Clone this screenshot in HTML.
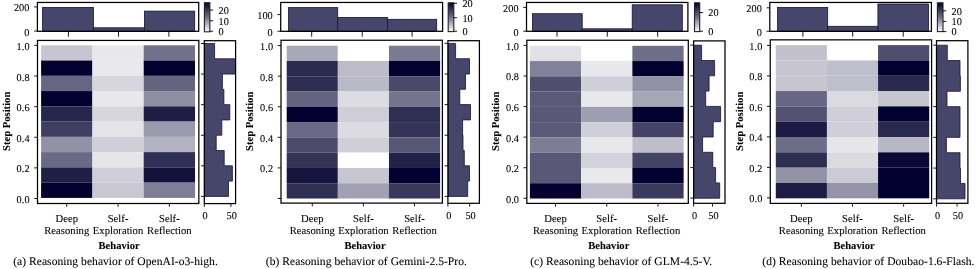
<!DOCTYPE html>
<html><head><meta charset="utf-8"><style>
html,body{margin:0;padding:0;background:#fff;}
body{width:977px;height:269px;overflow:hidden;}
svg{display:block;will-change:transform;}
text{font-family:"Liberation Serif", serif;fill:#000;stroke:#000;stroke-width:0.08px;text-rendering:geometricPrecision;}
.t{font-size:10.4px;}
.x{font-size:10.7px;}
.b{font-size:10.6px;font-weight:bold;}
.c{font-size:11.65px;}
</style></head><body>
<svg width="977" height="269" viewBox="0 0 977 269">
<defs><linearGradient id="g0" x1="0" y1="1" x2="0" y2="0"><stop offset="0" stop-color="#ffffff"/><stop offset="0.5" stop-color="#6f6e8a"/><stop offset="1" stop-color="#02002e"/></linearGradient><clipPath id="rc0"><rect x="204.3" y="40.7" width="31.3" height="162.9"/></clipPath><linearGradient id="g1" x1="0" y1="1" x2="0" y2="0"><stop offset="0" stop-color="#ffffff"/><stop offset="0.5" stop-color="#6f6e8a"/><stop offset="1" stop-color="#02002e"/></linearGradient><clipPath id="rc1"><rect x="447.9" y="40.7" width="31.5" height="162.6"/></clipPath><linearGradient id="g2" x1="0" y1="1" x2="0" y2="0"><stop offset="0" stop-color="#ffffff"/><stop offset="0.5" stop-color="#6f6e8a"/><stop offset="1" stop-color="#02002e"/></linearGradient><clipPath id="rc2"><rect x="693.6" y="40.9" width="31.4" height="162.4"/></clipPath><linearGradient id="g3" x1="0" y1="1" x2="0" y2="0"><stop offset="0" stop-color="#ffffff"/><stop offset="0.5" stop-color="#6f6e8a"/><stop offset="1" stop-color="#02002e"/></linearGradient><clipPath id="rc3"><rect x="936.5" y="40.7" width="31.4" height="162.6"/></clipPath></defs>
<rect x="41.1" y="45.3" width="51.32" height="15.28" fill="#c6c5d0"/>
<rect x="92.4" y="45.3" width="51.32" height="15.28" fill="#e8e7ec"/>
<rect x="143.7" y="45.3" width="51.32" height="15.28" fill="#72718b"/>
<rect x="41.1" y="60.56" width="51.32" height="15.28" fill="#02002e"/>
<rect x="92.4" y="60.56" width="51.32" height="15.28" fill="#e9e8ed"/>
<rect x="143.7" y="60.56" width="51.32" height="15.28" fill="#02002e"/>
<rect x="41.1" y="75.82" width="51.32" height="15.28" fill="#676682"/>
<rect x="92.4" y="75.82" width="51.32" height="15.28" fill="#d7d6de"/>
<rect x="143.7" y="75.82" width="51.32" height="15.28" fill="#65647f"/>
<rect x="41.1" y="91.08" width="51.32" height="15.28" fill="#02002e"/>
<rect x="92.4" y="91.08" width="51.32" height="15.28" fill="#e8e7ec"/>
<rect x="143.7" y="91.08" width="51.32" height="15.28" fill="#8f8ea3"/>
<rect x="41.1" y="106.34" width="51.32" height="15.28" fill="#26254b"/>
<rect x="92.4" y="106.34" width="51.32" height="15.28" fill="#d6d6dc"/>
<rect x="143.7" y="106.34" width="51.32" height="15.28" fill="#1f1d45"/>
<rect x="41.1" y="121.6" width="51.32" height="15.28" fill="#3f3e60"/>
<rect x="92.4" y="121.6" width="51.32" height="15.28" fill="#e4e3e8"/>
<rect x="143.7" y="121.6" width="51.32" height="15.28" fill="#9a99ad"/>
<rect x="41.1" y="136.86" width="51.32" height="15.28" fill="#9291a6"/>
<rect x="92.4" y="136.86" width="51.32" height="15.28" fill="#d0cfd8"/>
<rect x="143.7" y="136.86" width="51.32" height="15.28" fill="#b3b2c0"/>
<rect x="41.1" y="152.12" width="51.32" height="15.28" fill="#6b6a86"/>
<rect x="92.4" y="152.12" width="51.32" height="15.28" fill="#e6e5ea"/>
<rect x="143.7" y="152.12" width="51.32" height="15.28" fill="#302f55"/>
<rect x="41.1" y="167.38" width="51.32" height="15.28" fill="#1f1e45"/>
<rect x="92.4" y="167.38" width="51.32" height="15.28" fill="#d0cfd9"/>
<rect x="143.7" y="167.38" width="51.32" height="15.28" fill="#14123c"/>
<rect x="41.1" y="182.64" width="51.32" height="15.28" fill="#04002e"/>
<rect x="92.4" y="182.64" width="51.32" height="15.28" fill="#c8c7d3"/>
<rect x="143.7" y="182.64" width="51.32" height="15.28" fill="#7f7e97"/>
<rect x="37.5" y="40.45" width="161.35" height="163.05" fill="none" stroke="#000" stroke-width="1.25"/>
<line x1="34.2" y1="45.4" x2="37.5" y2="45.4" stroke="#000" stroke-width="0.9"/>
<text x="0" y="0" transform="translate(29.6,49.9) skewX(0.5)" text-anchor="end" class="t">1.0</text>
<line x1="34.2" y1="76.02" x2="37.5" y2="76.02" stroke="#000" stroke-width="0.9"/>
<text x="0" y="0" transform="translate(29.6,80.52) skewX(0.5)" text-anchor="end" class="t">0.8</text>
<line x1="34.2" y1="106.64" x2="37.5" y2="106.64" stroke="#000" stroke-width="0.9"/>
<text x="0" y="0" transform="translate(29.6,111.14) skewX(0.5)" text-anchor="end" class="t">0.6</text>
<line x1="34.2" y1="137.26" x2="37.5" y2="137.26" stroke="#000" stroke-width="0.9"/>
<text x="0" y="0" transform="translate(29.6,141.76) skewX(0.5)" text-anchor="end" class="t">0.4</text>
<line x1="34.2" y1="167.88" x2="37.5" y2="167.88" stroke="#000" stroke-width="0.9"/>
<text x="0" y="0" transform="translate(29.6,172.38) skewX(0.5)" text-anchor="end" class="t">0.2</text>
<line x1="34.2" y1="198.5" x2="37.5" y2="198.5" stroke="#000" stroke-width="0.9"/>
<text x="0" y="0" transform="translate(29.6,203) skewX(0.5)" text-anchor="end" class="t">0.0</text>
<line x1="66.75" y1="203.5" x2="66.75" y2="206.8" stroke="#000" stroke-width="0.9"/>
<line x1="118.05" y1="203.5" x2="118.05" y2="206.8" stroke="#000" stroke-width="0.9"/>
<line x1="169.35" y1="203.5" x2="169.35" y2="206.8" stroke="#000" stroke-width="0.9"/>
<text x="0" y="0" transform="translate(66.75,221.9) skewX(0.5)" text-anchor="middle" class="x">Deep</text>
<text x="0" y="0" transform="translate(66.75,233.7) skewX(0.5)" text-anchor="middle" class="x">Reasoning</text>
<text x="0" y="0" transform="translate(118.05,221.9) skewX(0.5)" text-anchor="middle" class="x">Self-</text>
<text x="0" y="0" transform="translate(118.05,233.7) skewX(0.5)" text-anchor="middle" class="x">Exploration</text>
<text x="0" y="0" transform="translate(169.35,221.9) skewX(0.5)" text-anchor="middle" class="x">Self-</text>
<text x="0" y="0" transform="translate(169.35,233.7) skewX(0.5)" text-anchor="middle" class="x">Reflection</text>
<text x="0" y="0" transform="translate(119.15,248.8) skewX(0.5)" text-anchor="middle" class="b">Behavior</text>
<text x="0" y="0" transform="translate(9.8,121.3) rotate(-90)" text-anchor="middle" class="b">Step Position</text>
<text x="0" y="0" transform="translate(115.5,264.6) skewX(0.5)" text-anchor="middle" class="c">(a) Reasoning behavior of OpenAI-o3-high.</text>
<rect x="42.6" y="7.4" width="50.82" height="23.9" fill="#46456a" stroke="#15133f" stroke-width="0.8"/>
<rect x="93.4" y="27.8" width="51.02" height="3.5" fill="#46456a" stroke="#15133f" stroke-width="0.8"/>
<rect x="144.4" y="11.1" width="50.32" height="20.2" fill="#46456a" stroke="#15133f" stroke-width="0.8"/>
<rect x="37.4" y="2.45" width="161.3" height="28.85" fill="none" stroke="#000" stroke-width="1.25"/>
<line x1="34.1" y1="6.9" x2="37.4" y2="6.9" stroke="#000" stroke-width="0.9"/>
<text x="0" y="0" transform="translate(29.5,11.4) skewX(0.5)" text-anchor="end" class="t">200</text>
<line x1="34.1" y1="31.1" x2="37.4" y2="31.1" stroke="#000" stroke-width="0.9"/>
<text x="0" y="0" transform="translate(29.5,35.6) skewX(0.5)" text-anchor="end" class="t">0</text>
<line x1="68.4" y1="31.3" x2="68.4" y2="36.7" stroke="#000" stroke-width="0.9"/>
<line x1="118.5" y1="31.3" x2="118.5" y2="36.7" stroke="#000" stroke-width="0.9"/>
<line x1="168.9" y1="31.3" x2="168.9" y2="36.7" stroke="#000" stroke-width="0.9"/>
<rect x="204.4" y="2.7" width="5.45" height="29.1" fill="url(#g0)" stroke="#222" stroke-width="1.1"/>
<line x1="209.85" y1="10.1" x2="213.15" y2="10.1" stroke="#000" stroke-width="0.9"/>
<text x="0" y="0" transform="translate(218.45,13.9) skewX(0.5)" class="t">20</text>
<line x1="209.85" y1="20.8" x2="213.15" y2="20.8" stroke="#000" stroke-width="0.9"/>
<text x="0" y="0" transform="translate(218.45,24.6) skewX(0.5)" class="t">10</text>
<line x1="209.85" y1="31.2" x2="213.15" y2="31.2" stroke="#000" stroke-width="0.9"/>
<text x="0" y="0" transform="translate(218.45,35) skewX(0.5)" class="t">0</text>
<path d="M204.3,43.5 L214.6,43.5 L214.6,58.79 L237.6,58.79 L237.6,74.08 L222.4,74.08 L222.4,89.37 L223.9,89.37 L223.9,104.66 L229.8,104.66 L229.8,119.95 L221.8,119.95 L221.8,135.24 L216.2,135.24 L216.2,150.53 L224.2,150.53 L224.2,165.82 L232.4,165.82 L232.4,181.11 L228.5,181.11 L228.5,196.4 L204.3,196.4 Z" fill="#46456a" stroke="#15133f" stroke-width="0.8" clip-path="url(#rc0)"/>
<rect x="204.3" y="40.7" width="31.3" height="162.9" fill="none" stroke="#000" stroke-width="1.25"/>
<line x1="201" y1="43.5" x2="204.3" y2="43.5" stroke="#000" stroke-width="0.9"/>
<line x1="201" y1="74.08" x2="204.3" y2="74.08" stroke="#000" stroke-width="0.9"/>
<line x1="201" y1="104.66" x2="204.3" y2="104.66" stroke="#000" stroke-width="0.9"/>
<line x1="201" y1="135.24" x2="204.3" y2="135.24" stroke="#000" stroke-width="0.9"/>
<line x1="201" y1="165.82" x2="204.3" y2="165.82" stroke="#000" stroke-width="0.9"/>
<line x1="201" y1="196.4" x2="204.3" y2="196.4" stroke="#000" stroke-width="0.9"/>
<line x1="204.3" y1="203.6" x2="204.3" y2="206.9" stroke="#000" stroke-width="0.9"/>
<text x="0" y="0" transform="translate(205.2,218.7) skewX(0.5)" text-anchor="middle" class="t">0</text>
<line x1="230.9" y1="203.6" x2="230.9" y2="206.9" stroke="#000" stroke-width="0.9"/>
<text x="0" y="0" transform="translate(231.8,218.7) skewX(0.5)" text-anchor="middle" class="t">50</text>
<rect x="286.7" y="45.7" width="51.15" height="15.3" fill="#a9a8b8"/>
<rect x="337.83" y="45.7" width="51.15" height="15.3" fill="#ffffff"/>
<rect x="388.97" y="45.7" width="51.15" height="15.3" fill="#7b7a93"/>
<rect x="286.7" y="60.98" width="51.15" height="15.3" fill="#2b2a4f"/>
<rect x="337.83" y="60.98" width="51.15" height="15.3" fill="#bcbbc7"/>
<rect x="388.97" y="60.98" width="51.15" height="15.3" fill="#02002e"/>
<rect x="286.7" y="76.26" width="51.15" height="15.3" fill="#2e2d52"/>
<rect x="337.83" y="76.26" width="51.15" height="15.3" fill="#bab9c6"/>
<rect x="388.97" y="76.26" width="51.15" height="15.3" fill="#4a4969"/>
<rect x="286.7" y="91.54" width="51.15" height="15.3" fill="#636280"/>
<rect x="337.83" y="91.54" width="51.15" height="15.3" fill="#dddce3"/>
<rect x="388.97" y="91.54" width="51.15" height="15.3" fill="#75748e"/>
<rect x="286.7" y="106.82" width="51.15" height="15.3" fill="#03002f"/>
<rect x="337.83" y="106.82" width="51.15" height="15.3" fill="#cfced8"/>
<rect x="388.97" y="106.82" width="51.15" height="15.3" fill="#2f2e53"/>
<rect x="286.7" y="122.1" width="51.15" height="15.3" fill="#6a6986"/>
<rect x="337.83" y="122.1" width="51.15" height="15.3" fill="#dcdbe2"/>
<rect x="388.97" y="122.1" width="51.15" height="15.3" fill="#353458"/>
<rect x="286.7" y="137.38" width="51.15" height="15.3" fill="#4c4b6b"/>
<rect x="337.83" y="137.38" width="51.15" height="15.3" fill="#d0cfd9"/>
<rect x="388.97" y="137.38" width="51.15" height="15.3" fill="#575676"/>
<rect x="286.7" y="152.66" width="51.15" height="15.3" fill="#343357"/>
<rect x="337.83" y="152.66" width="51.15" height="15.3" fill="#ffffff"/>
<rect x="388.97" y="152.66" width="51.15" height="15.3" fill="#222148"/>
<rect x="286.7" y="167.94" width="51.15" height="15.3" fill="#17153d"/>
<rect x="337.83" y="167.94" width="51.15" height="15.3" fill="#c8c7d1"/>
<rect x="388.97" y="167.94" width="51.15" height="15.3" fill="#03002f"/>
<rect x="286.7" y="183.22" width="51.15" height="15.3" fill="#2f2e53"/>
<rect x="337.83" y="183.22" width="51.15" height="15.3" fill="#a2a1b3"/>
<rect x="388.97" y="183.22" width="51.15" height="15.3" fill="#3a395c"/>
<rect x="281" y="40.25" width="161.4" height="162.85" fill="none" stroke="#000" stroke-width="1.25"/>
<line x1="277.7" y1="45.6" x2="281" y2="45.6" stroke="#000" stroke-width="0.9"/>
<text x="0" y="0" transform="translate(273.1,50.1) skewX(0.5)" text-anchor="end" class="t">1.0</text>
<line x1="277.7" y1="76.18" x2="281" y2="76.18" stroke="#000" stroke-width="0.9"/>
<text x="0" y="0" transform="translate(273.1,80.68) skewX(0.5)" text-anchor="end" class="t">0.8</text>
<line x1="277.7" y1="106.76" x2="281" y2="106.76" stroke="#000" stroke-width="0.9"/>
<text x="0" y="0" transform="translate(273.1,111.26) skewX(0.5)" text-anchor="end" class="t">0.6</text>
<line x1="277.7" y1="137.34" x2="281" y2="137.34" stroke="#000" stroke-width="0.9"/>
<text x="0" y="0" transform="translate(273.1,141.84) skewX(0.5)" text-anchor="end" class="t">0.4</text>
<line x1="277.7" y1="167.92" x2="281" y2="167.92" stroke="#000" stroke-width="0.9"/>
<text x="0" y="0" transform="translate(273.1,172.42) skewX(0.5)" text-anchor="end" class="t">0.2</text>
<line x1="277.7" y1="198.5" x2="281" y2="198.5" stroke="#000" stroke-width="0.9"/>
<line x1="312.27" y1="203.1" x2="312.27" y2="206.4" stroke="#000" stroke-width="0.9"/>
<line x1="363.4" y1="203.1" x2="363.4" y2="206.4" stroke="#000" stroke-width="0.9"/>
<line x1="414.53" y1="203.1" x2="414.53" y2="206.4" stroke="#000" stroke-width="0.9"/>
<text x="0" y="0" transform="translate(312.27,221.9) skewX(0.5)" text-anchor="middle" class="x">Deep</text>
<text x="0" y="0" transform="translate(312.27,233.7) skewX(0.5)" text-anchor="middle" class="x">Reasoning</text>
<text x="0" y="0" transform="translate(363.4,221.9) skewX(0.5)" text-anchor="middle" class="x">Self-</text>
<text x="0" y="0" transform="translate(363.4,233.7) skewX(0.5)" text-anchor="middle" class="x">Exploration</text>
<text x="0" y="0" transform="translate(414.53,221.9) skewX(0.5)" text-anchor="middle" class="x">Self-</text>
<text x="0" y="0" transform="translate(414.53,233.7) skewX(0.5)" text-anchor="middle" class="x">Reflection</text>
<text x="0" y="0" transform="translate(365,248.8) skewX(0.5)" text-anchor="middle" class="b">Behavior</text>
<text x="0" y="0" transform="translate(253.3,121.3) rotate(-90)" text-anchor="middle" class="b">Step Position</text>
<text x="0" y="0" transform="translate(366.4,264.6) skewX(0.5)" text-anchor="middle" class="c">(b) Reasoning behavior of Gemini-2.5-Pro.</text>
<rect x="288.5" y="7.6" width="49.22" height="23.7" fill="#46456a" stroke="#15133f" stroke-width="0.8"/>
<rect x="337.7" y="17.4" width="49.82" height="13.9" fill="#46456a" stroke="#15133f" stroke-width="0.8"/>
<rect x="387.5" y="19.3" width="49.22" height="12" fill="#46456a" stroke="#15133f" stroke-width="0.8"/>
<rect x="280.7" y="2.45" width="161.9" height="28.85" fill="none" stroke="#000" stroke-width="1.25"/>
<line x1="277.4" y1="14.6" x2="280.7" y2="14.6" stroke="#000" stroke-width="0.9"/>
<text x="0" y="0" transform="translate(272.8,19.1) skewX(0.5)" text-anchor="end" class="t">100</text>
<line x1="277.4" y1="31.2" x2="280.7" y2="31.2" stroke="#000" stroke-width="0.9"/>
<text x="0" y="0" transform="translate(272.8,35.7) skewX(0.5)" text-anchor="end" class="t">0</text>
<line x1="311.7" y1="31.3" x2="311.7" y2="36.7" stroke="#000" stroke-width="0.9"/>
<line x1="362.2" y1="31.3" x2="362.2" y2="36.7" stroke="#000" stroke-width="0.9"/>
<line x1="412.1" y1="31.3" x2="412.1" y2="36.7" stroke="#000" stroke-width="0.9"/>
<rect x="448.2" y="2.8" width="5.6" height="28.8" fill="url(#g1)" stroke="#222" stroke-width="1.1"/>
<line x1="453.8" y1="3.3" x2="457.1" y2="3.3" stroke="#000" stroke-width="0.9"/>
<text x="0" y="0" transform="translate(462.4,7.1) skewX(0.5)" class="t">20</text>
<line x1="453.8" y1="17.7" x2="457.1" y2="17.7" stroke="#000" stroke-width="0.9"/>
<text x="0" y="0" transform="translate(462.4,21.5) skewX(0.5)" class="t">10</text>
<line x1="453.8" y1="31.2" x2="457.1" y2="31.2" stroke="#000" stroke-width="0.9"/>
<text x="0" y="0" transform="translate(462.4,35) skewX(0.5)" class="t">0</text>
<path d="M447.9,43.4 L455.6,43.4 L455.6,58.7 L469.5,58.7 L469.5,74 L465.5,74 L465.5,89.3 L459.8,89.3 L459.8,104.6 L470.5,104.6 L470.5,119.9 L462.6,119.9 L462.6,135.2 L463,135.2 L463,150.5 L464.3,150.5 L464.3,165.8 L469.5,165.8 L469.5,181.1 L467.7,181.1 L467.7,196.4 L447.9,196.4 Z" fill="#46456a" stroke="#15133f" stroke-width="0.8" clip-path="url(#rc1)"/>
<rect x="447.9" y="40.7" width="31.5" height="162.6" fill="none" stroke="#000" stroke-width="1.25"/>
<line x1="444.6" y1="43.4" x2="447.9" y2="43.4" stroke="#000" stroke-width="0.9"/>
<line x1="444.6" y1="74" x2="447.9" y2="74" stroke="#000" stroke-width="0.9"/>
<line x1="444.6" y1="104.6" x2="447.9" y2="104.6" stroke="#000" stroke-width="0.9"/>
<line x1="444.6" y1="135.2" x2="447.9" y2="135.2" stroke="#000" stroke-width="0.9"/>
<line x1="444.6" y1="165.8" x2="447.9" y2="165.8" stroke="#000" stroke-width="0.9"/>
<line x1="444.6" y1="196.4" x2="447.9" y2="196.4" stroke="#000" stroke-width="0.9"/>
<line x1="447.9" y1="203.3" x2="447.9" y2="206.6" stroke="#000" stroke-width="0.9"/>
<text x="0" y="0" transform="translate(448.8,218.7) skewX(0.5)" text-anchor="middle" class="t">0</text>
<line x1="469.7" y1="203.3" x2="469.7" y2="206.6" stroke="#000" stroke-width="0.9"/>
<text x="0" y="0" transform="translate(470.6,218.7) skewX(0.5)" text-anchor="middle" class="t">50</text>
<rect x="529.9" y="45.8" width="51.25" height="15.29" fill="#e2e1e7"/>
<rect x="581.13" y="45.8" width="51.25" height="15.29" fill="#ffffff"/>
<rect x="632.37" y="45.8" width="51.25" height="15.29" fill="#6f6e88"/>
<rect x="529.9" y="61.07" width="51.25" height="15.29" fill="#82819a"/>
<rect x="581.13" y="61.07" width="51.25" height="15.29" fill="#e8e7ec"/>
<rect x="632.37" y="61.07" width="51.25" height="15.29" fill="#02002e"/>
<rect x="529.9" y="76.34" width="51.25" height="15.29" fill="#4f4e6f"/>
<rect x="581.13" y="76.34" width="51.25" height="15.29" fill="#cfced9"/>
<rect x="632.37" y="76.34" width="51.25" height="15.29" fill="#9291a6"/>
<rect x="529.9" y="91.61" width="51.25" height="15.29" fill="#5a5977"/>
<rect x="581.13" y="91.61" width="51.25" height="15.29" fill="#e8e7ec"/>
<rect x="632.37" y="91.61" width="51.25" height="15.29" fill="#a7a6b6"/>
<rect x="529.9" y="106.88" width="51.25" height="15.29" fill="#595877"/>
<rect x="581.13" y="106.88" width="51.25" height="15.29" fill="#9f9eb0"/>
<rect x="632.37" y="106.88" width="51.25" height="15.29" fill="#02002e"/>
<rect x="529.9" y="122.15" width="51.25" height="15.29" fill="#5a5978"/>
<rect x="581.13" y="122.15" width="51.25" height="15.29" fill="#d0cfd9"/>
<rect x="632.37" y="122.15" width="51.25" height="15.29" fill="#444366"/>
<rect x="529.9" y="137.42" width="51.25" height="15.29" fill="#7e7d96"/>
<rect x="581.13" y="137.42" width="51.25" height="15.29" fill="#e7e6eb"/>
<rect x="632.37" y="137.42" width="51.25" height="15.29" fill="#bebdc9"/>
<rect x="529.9" y="152.69" width="51.25" height="15.29" fill="#595877"/>
<rect x="581.13" y="152.69" width="51.25" height="15.29" fill="#d4d3dc"/>
<rect x="632.37" y="152.69" width="51.25" height="15.29" fill="#444366"/>
<rect x="529.9" y="167.96" width="51.25" height="15.29" fill="#595877"/>
<rect x="581.13" y="167.96" width="51.25" height="15.29" fill="#e9e8ed"/>
<rect x="632.37" y="167.96" width="51.25" height="15.29" fill="#02002e"/>
<rect x="529.9" y="183.23" width="51.25" height="15.29" fill="#06002f"/>
<rect x="581.13" y="183.23" width="51.25" height="15.29" fill="#bcbbc7"/>
<rect x="632.37" y="183.23" width="51.25" height="15.29" fill="#3b3a5d"/>
<rect x="526.85" y="40.25" width="161.45" height="163.15" fill="none" stroke="#000" stroke-width="1.25"/>
<line x1="523.55" y1="45.4" x2="526.85" y2="45.4" stroke="#000" stroke-width="0.9"/>
<text x="0" y="0" transform="translate(518.95,49.9) skewX(0.5)" text-anchor="end" class="t">1.0</text>
<line x1="523.55" y1="75.98" x2="526.85" y2="75.98" stroke="#000" stroke-width="0.9"/>
<text x="0" y="0" transform="translate(518.95,80.48) skewX(0.5)" text-anchor="end" class="t">0.8</text>
<line x1="523.55" y1="106.56" x2="526.85" y2="106.56" stroke="#000" stroke-width="0.9"/>
<text x="0" y="0" transform="translate(518.95,111.06) skewX(0.5)" text-anchor="end" class="t">0.6</text>
<line x1="523.55" y1="137.14" x2="526.85" y2="137.14" stroke="#000" stroke-width="0.9"/>
<text x="0" y="0" transform="translate(518.95,141.64) skewX(0.5)" text-anchor="end" class="t">0.4</text>
<line x1="523.55" y1="167.72" x2="526.85" y2="167.72" stroke="#000" stroke-width="0.9"/>
<text x="0" y="0" transform="translate(518.95,172.22) skewX(0.5)" text-anchor="end" class="t">0.2</text>
<line x1="523.55" y1="198.3" x2="526.85" y2="198.3" stroke="#000" stroke-width="0.9"/>
<text x="0" y="0" transform="translate(518.95,202.8) skewX(0.5)" text-anchor="end" class="t">0.0</text>
<line x1="555.52" y1="203.4" x2="555.52" y2="206.7" stroke="#000" stroke-width="0.9"/>
<line x1="606.75" y1="203.4" x2="606.75" y2="206.7" stroke="#000" stroke-width="0.9"/>
<line x1="657.98" y1="203.4" x2="657.98" y2="206.7" stroke="#000" stroke-width="0.9"/>
<text x="0" y="0" transform="translate(555.52,221.9) skewX(0.5)" text-anchor="middle" class="x">Deep</text>
<text x="0" y="0" transform="translate(555.52,233.7) skewX(0.5)" text-anchor="middle" class="x">Reasoning</text>
<text x="0" y="0" transform="translate(606.75,221.9) skewX(0.5)" text-anchor="middle" class="x">Self-</text>
<text x="0" y="0" transform="translate(606.75,233.7) skewX(0.5)" text-anchor="middle" class="x">Exploration</text>
<text x="0" y="0" transform="translate(657.98,221.9) skewX(0.5)" text-anchor="middle" class="x">Self-</text>
<text x="0" y="0" transform="translate(657.98,233.7) skewX(0.5)" text-anchor="middle" class="x">Reflection</text>
<text x="0" y="0" transform="translate(608.75,248.8) skewX(0.5)" text-anchor="middle" class="b">Behavior</text>
<text x="0" y="0" transform="translate(499.15,121.3) rotate(-90)" text-anchor="middle" class="b">Step Position</text>
<text x="0" y="0" transform="translate(621.2,264.6) skewX(0.5)" text-anchor="middle" class="c">(c) Reasoning behavior of GLM-4.5-V.</text>
<rect x="532.4" y="13.7" width="49.82" height="17.6" fill="#46456a" stroke="#15133f" stroke-width="0.8"/>
<rect x="582.2" y="28.8" width="50.02" height="2.5" fill="#46456a" stroke="#15133f" stroke-width="0.8"/>
<rect x="632.2" y="4.8" width="50.12" height="26.5" fill="#46456a" stroke="#15133f" stroke-width="0.8"/>
<rect x="526.5" y="2.45" width="161.4" height="28.85" fill="none" stroke="#000" stroke-width="1.25"/>
<line x1="523.2" y1="7.4" x2="526.5" y2="7.4" stroke="#000" stroke-width="0.9"/>
<text x="0" y="0" transform="translate(518.6,11.9) skewX(0.5)" text-anchor="end" class="t">200</text>
<line x1="523.2" y1="31.2" x2="526.5" y2="31.2" stroke="#000" stroke-width="0.9"/>
<text x="0" y="0" transform="translate(518.6,35.7) skewX(0.5)" text-anchor="end" class="t">0</text>
<line x1="557" y1="31.3" x2="557" y2="36.7" stroke="#000" stroke-width="0.9"/>
<line x1="607.3" y1="31.3" x2="607.3" y2="36.7" stroke="#000" stroke-width="0.9"/>
<line x1="657.7" y1="31.3" x2="657.7" y2="36.7" stroke="#000" stroke-width="0.9"/>
<rect x="694.5" y="2.8" width="5.2" height="28.8" fill="url(#g2)" stroke="#222" stroke-width="1.1"/>
<line x1="699.7" y1="12.6" x2="703" y2="12.6" stroke="#000" stroke-width="0.9"/>
<text x="0" y="0" transform="translate(708.3,16.4) skewX(0.5)" class="t">20</text>
<line x1="699.7" y1="31.2" x2="703" y2="31.2" stroke="#000" stroke-width="0.9"/>
<text x="0" y="0" transform="translate(708.3,35) skewX(0.5)" class="t">0</text>
<path d="M693.6,45.2 L701.6,45.2 L701.6,60.5 L714.6,60.5 L714.6,75.8 L709.1,75.8 L709.1,91.1 L705.7,91.1 L705.7,106.4 L720.6,106.4 L720.6,121.7 L713.2,121.7 L713.2,137 L702.6,137 L702.6,152.3 L712.8,152.3 L712.8,167.6 L715.6,167.6 L715.6,182.9 L719.7,182.9 L719.7,198.2 L693.6,198.2 Z" fill="#46456a" stroke="#15133f" stroke-width="0.8" clip-path="url(#rc2)"/>
<rect x="693.6" y="40.9" width="31.4" height="162.4" fill="none" stroke="#000" stroke-width="1.25"/>
<line x1="690.3" y1="45.2" x2="693.6" y2="45.2" stroke="#000" stroke-width="0.9"/>
<line x1="690.3" y1="75.8" x2="693.6" y2="75.8" stroke="#000" stroke-width="0.9"/>
<line x1="690.3" y1="106.4" x2="693.6" y2="106.4" stroke="#000" stroke-width="0.9"/>
<line x1="690.3" y1="137" x2="693.6" y2="137" stroke="#000" stroke-width="0.9"/>
<line x1="690.3" y1="167.6" x2="693.6" y2="167.6" stroke="#000" stroke-width="0.9"/>
<line x1="690.3" y1="198.2" x2="693.6" y2="198.2" stroke="#000" stroke-width="0.9"/>
<line x1="693.6" y1="203.3" x2="693.6" y2="206.6" stroke="#000" stroke-width="0.9"/>
<text x="0" y="0" transform="translate(694.5,218.7) skewX(0.5)" text-anchor="middle" class="t">0</text>
<line x1="712.5" y1="203.3" x2="712.5" y2="206.6" stroke="#000" stroke-width="0.9"/>
<text x="0" y="0" transform="translate(713.4,218.7) skewX(0.5)" text-anchor="middle" class="t">50</text>
<rect x="775.8" y="45.1" width="51.15" height="15.34" fill="#c1c0cc"/>
<rect x="826.93" y="45.1" width="51.15" height="15.34" fill="#ffffff"/>
<rect x="878.07" y="45.1" width="51.15" height="15.34" fill="#4f4e6f"/>
<rect x="775.8" y="60.42" width="51.15" height="15.34" fill="#c6c5d0"/>
<rect x="826.93" y="60.42" width="51.15" height="15.34" fill="#bfbecb"/>
<rect x="878.07" y="60.42" width="51.15" height="15.34" fill="#02002e"/>
<rect x="775.8" y="75.74" width="51.15" height="15.34" fill="#c6c5d0"/>
<rect x="826.93" y="75.74" width="51.15" height="15.34" fill="#bfbecb"/>
<rect x="878.07" y="75.74" width="51.15" height="15.34" fill="#2a2950"/>
<rect x="775.8" y="91.06" width="51.15" height="15.34" fill="#666583"/>
<rect x="826.93" y="91.06" width="51.15" height="15.34" fill="#dbdae1"/>
<rect x="878.07" y="91.06" width="51.15" height="15.34" fill="#c6c5d0"/>
<rect x="775.8" y="106.38" width="51.15" height="15.34" fill="#535273"/>
<rect x="826.93" y="106.38" width="51.15" height="15.34" fill="#cfced9"/>
<rect x="878.07" y="106.38" width="51.15" height="15.34" fill="#02002e"/>
<rect x="775.8" y="121.7" width="51.15" height="15.34" fill="#1d1b44"/>
<rect x="826.93" y="121.7" width="51.15" height="15.34" fill="#cfced9"/>
<rect x="878.07" y="121.7" width="51.15" height="15.34" fill="#29284e"/>
<rect x="775.8" y="137.02" width="51.15" height="15.34" fill="#6e6d88"/>
<rect x="826.93" y="137.02" width="51.15" height="15.34" fill="#e6e5ea"/>
<rect x="878.07" y="137.02" width="51.15" height="15.34" fill="#b8b7c5"/>
<rect x="775.8" y="152.34" width="51.15" height="15.34" fill="#2e2d52"/>
<rect x="826.93" y="152.34" width="51.15" height="15.34" fill="#dbdae1"/>
<rect x="878.07" y="152.34" width="51.15" height="15.34" fill="#0b0934"/>
<rect x="775.8" y="167.66" width="51.15" height="15.34" fill="#9392a6"/>
<rect x="826.93" y="167.66" width="51.15" height="15.34" fill="#cbcad5"/>
<rect x="878.07" y="167.66" width="51.15" height="15.34" fill="#04002f"/>
<rect x="775.8" y="182.98" width="51.15" height="15.34" fill="#1e1c44"/>
<rect x="826.93" y="182.98" width="51.15" height="15.34" fill="#9493a8"/>
<rect x="878.07" y="182.98" width="51.15" height="15.34" fill="#02002e"/>
<rect x="770.25" y="39.85" width="161.35" height="163.55" fill="none" stroke="#000" stroke-width="1.25"/>
<line x1="766.95" y1="45.4" x2="770.25" y2="45.4" stroke="#000" stroke-width="0.9"/>
<text x="0" y="0" transform="translate(762.35,49.9) skewX(0.5)" text-anchor="end" class="t">1.0</text>
<line x1="766.95" y1="75.9" x2="770.25" y2="75.9" stroke="#000" stroke-width="0.9"/>
<text x="0" y="0" transform="translate(762.35,80.4) skewX(0.5)" text-anchor="end" class="t">0.8</text>
<line x1="766.95" y1="106.4" x2="770.25" y2="106.4" stroke="#000" stroke-width="0.9"/>
<text x="0" y="0" transform="translate(762.35,110.9) skewX(0.5)" text-anchor="end" class="t">0.6</text>
<line x1="766.95" y1="136.9" x2="770.25" y2="136.9" stroke="#000" stroke-width="0.9"/>
<text x="0" y="0" transform="translate(762.35,141.4) skewX(0.5)" text-anchor="end" class="t">0.4</text>
<line x1="766.95" y1="167.4" x2="770.25" y2="167.4" stroke="#000" stroke-width="0.9"/>
<text x="0" y="0" transform="translate(762.35,171.9) skewX(0.5)" text-anchor="end" class="t">0.2</text>
<line x1="766.95" y1="197.9" x2="770.25" y2="197.9" stroke="#000" stroke-width="0.9"/>
<text x="0" y="0" transform="translate(762.35,202.4) skewX(0.5)" text-anchor="end" class="t">0.0</text>
<line x1="801.37" y1="203.4" x2="801.37" y2="206.7" stroke="#000" stroke-width="0.9"/>
<line x1="852.5" y1="203.4" x2="852.5" y2="206.7" stroke="#000" stroke-width="0.9"/>
<line x1="903.63" y1="203.4" x2="903.63" y2="206.7" stroke="#000" stroke-width="0.9"/>
<text x="0" y="0" transform="translate(801.37,221.9) skewX(0.5)" text-anchor="middle" class="x">Deep</text>
<text x="0" y="0" transform="translate(801.37,233.7) skewX(0.5)" text-anchor="middle" class="x">Reasoning</text>
<text x="0" y="0" transform="translate(852.5,221.9) skewX(0.5)" text-anchor="middle" class="x">Self-</text>
<text x="0" y="0" transform="translate(852.5,233.7) skewX(0.5)" text-anchor="middle" class="x">Exploration</text>
<text x="0" y="0" transform="translate(903.63,221.9) skewX(0.5)" text-anchor="middle" class="x">Self-</text>
<text x="0" y="0" transform="translate(903.63,233.7) skewX(0.5)" text-anchor="middle" class="x">Reflection</text>
<text x="0" y="0" transform="translate(854.05,248.8) skewX(0.5)" text-anchor="middle" class="b">Behavior</text>
<text x="0" y="0" transform="translate(742.55,121.3) rotate(-90)" text-anchor="middle" class="b">Step Position</text>
<text x="0" y="0" transform="translate(868.4,264.6) skewX(0.5)" text-anchor="middle" class="c">(d) Reasoning behavior of Doubao-1.6-Flash.</text>
<rect x="777.5" y="7.4" width="50.22" height="23.9" fill="#46456a" stroke="#15133f" stroke-width="0.8"/>
<rect x="827.7" y="26.3" width="50.22" height="5" fill="#46456a" stroke="#15133f" stroke-width="0.8"/>
<rect x="877.9" y="4" width="50.62" height="27.3" fill="#46456a" stroke="#15133f" stroke-width="0.8"/>
<rect x="769.8" y="2.45" width="161.6" height="28.85" fill="none" stroke="#000" stroke-width="1.25"/>
<line x1="766.5" y1="7.8" x2="769.8" y2="7.8" stroke="#000" stroke-width="0.9"/>
<text x="0" y="0" transform="translate(761.9,12.3) skewX(0.5)" text-anchor="end" class="t">200</text>
<line x1="766.5" y1="31.2" x2="769.8" y2="31.2" stroke="#000" stroke-width="0.9"/>
<text x="0" y="0" transform="translate(761.9,35.7) skewX(0.5)" text-anchor="end" class="t">0</text>
<line x1="802.9" y1="31.3" x2="802.9" y2="36.7" stroke="#000" stroke-width="0.9"/>
<line x1="852.7" y1="31.3" x2="852.7" y2="36.7" stroke="#000" stroke-width="0.9"/>
<line x1="903.2" y1="31.3" x2="903.2" y2="36.7" stroke="#000" stroke-width="0.9"/>
<rect x="937.4" y="2.8" width="5.6" height="28.8" fill="url(#g3)" stroke="#222" stroke-width="1.1"/>
<line x1="943" y1="10.8" x2="946.3" y2="10.8" stroke="#000" stroke-width="0.9"/>
<text x="0" y="0" transform="translate(951.6,14.6) skewX(0.5)" class="t">20</text>
<line x1="943" y1="21.4" x2="946.3" y2="21.4" stroke="#000" stroke-width="0.9"/>
<text x="0" y="0" transform="translate(951.6,25.2) skewX(0.5)" class="t">10</text>
<line x1="943" y1="31.6" x2="946.3" y2="31.6" stroke="#000" stroke-width="0.9"/>
<text x="0" y="0" transform="translate(951.6,35.4) skewX(0.5)" class="t">0</text>
<path d="M936.5,45.2 L947.3,45.2 L947.3,60.56 L960,60.56 L960,75.92 L960.4,75.92 L960.4,91.28 L947,91.28 L947,106.64 L960,106.64 L960,122 L960,122 L960,137.36 L946.4,137.36 L946.4,152.72 L960,152.72 L960,168.08 L960.5,168.08 L960.5,183.44 L965,183.44 L965,198.8 L936.5,198.8 Z" fill="#46456a" stroke="#15133f" stroke-width="0.8" clip-path="url(#rc3)"/>
<rect x="936.5" y="40.7" width="31.4" height="162.6" fill="none" stroke="#000" stroke-width="1.25"/>
<line x1="933.2" y1="45.2" x2="936.5" y2="45.2" stroke="#000" stroke-width="0.9"/>
<line x1="933.2" y1="75.92" x2="936.5" y2="75.92" stroke="#000" stroke-width="0.9"/>
<line x1="933.2" y1="106.64" x2="936.5" y2="106.64" stroke="#000" stroke-width="0.9"/>
<line x1="933.2" y1="137.36" x2="936.5" y2="137.36" stroke="#000" stroke-width="0.9"/>
<line x1="933.2" y1="168.08" x2="936.5" y2="168.08" stroke="#000" stroke-width="0.9"/>
<line x1="933.2" y1="198.8" x2="936.5" y2="198.8" stroke="#000" stroke-width="0.9"/>
<line x1="936.6" y1="203.3" x2="936.6" y2="206.6" stroke="#000" stroke-width="0.9"/>
<text x="0" y="0" transform="translate(937.5,218.7) skewX(0.5)" text-anchor="middle" class="t">0</text>
<line x1="957.1" y1="203.3" x2="957.1" y2="206.6" stroke="#000" stroke-width="0.9"/>
<text x="0" y="0" transform="translate(958,218.7) skewX(0.5)" text-anchor="middle" class="t">50</text>
</svg>
</body></html>
